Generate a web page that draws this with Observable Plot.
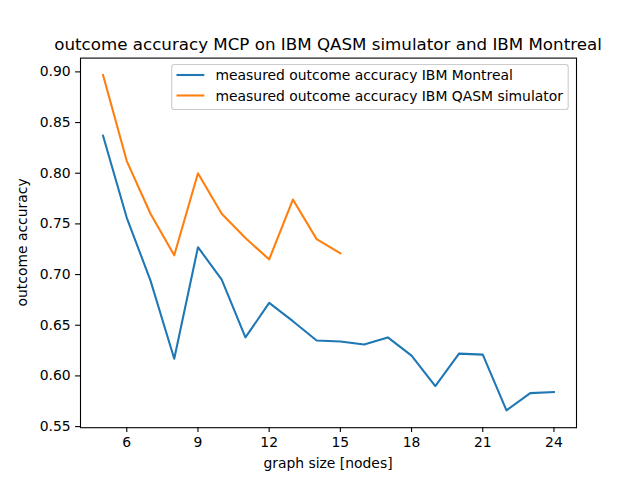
<!DOCTYPE html>
<html>
<head>
<meta charset="utf-8">
<script src="https://cdn.jsdelivr.net/npm/d3@7"></script>
<script src="https://cdn.jsdelivr.net/npm/@observablehq/plot@0.6"></script>
<style>
  html, body { margin: 0; padding: 0; background: #fff; }
  #wrap { position: relative; width: 640px; height: 480px; font-family: "DejaVu Sans", sans-serif; }
  #wrap svg.ov { position: absolute; left: 0; top: 0; pointer-events: none; }
</style>
</head>
<body>
<div id="wrap"></div>
<script>
const title = "outcome accuracy MCP on IBM QASM simulator and IBM Montreal";
const xLabel = "graph size [nodes]";
const yLabel = "outcome accuracy";
const seriesNames = ["measured outcome accuracy IBM Montreal", "measured outcome accuracy IBM QASM simulator"];
const seriesColors = ["#1f77b4", "#ff7f0e"];

const montrealNodes = [5, 6, 7, 8, 9, 10, 11, 12, 13, 14, 15, 16, 17, 18, 19, 20, 21, 22, 23, 24];
const montrealAcc = [0.837, 0.756, 0.694, 0.617, 0.727, 0.695, 0.638, 0.672, 0.654, 0.635, 0.634, 0.631, 0.638, 0.620, 0.590, 0.622, 0.621, 0.566, 0.583, 0.584];

const qasmNodes = [5, 6, 7, 8, 9, 10, 11, 12, 13, 14, 15];
const qasmAcc = [0.897, 0.812, 0.760, 0.719, 0.800, 0.760, 0.736, 0.715, 0.774, 0.735, 0.721];

const xTicks = [6, 9, 12, 15, 18, 21, 24];
const yTicks = [0.55, 0.60, 0.65, 0.70, 0.75, 0.80, 0.85, 0.90];

const data = [
  ...montrealNodes.map((n, i) => ({nodes: n, acc: montrealAcc[i], series: seriesNames[0]})),
  ...qasmNodes.map((n, i) => ({nodes: n, acc: qasmAcc[i], series: seriesNames[1]}))
];

const W = 640, H = 480;
const mL = 80, mR = 64, mT = 57.6, mB = 52.8;

const chart = Plot.plot({
  width: W,
  height: H,
  marginLeft: mL,
  marginRight: mR,
  marginTop: mT,
  marginBottom: mB,
  style: {fontFamily: "DejaVu Sans, sans-serif", fontSize: "13.9px", color: "black", background: "white"},
  x: {domain: [4.05, 24.95], ticks: xTicks, tickSize: 4.9, tickPadding: 4.9, label: null},
  y: {domain: [0.5489, 0.9136], ticks: yTicks, tickFormat: d3.format(".2f"), tickSize: 4.9, tickPadding: 4.9, label: null},
  color: {domain: seriesNames, range: seriesColors},
  marks: [
    Plot.line(data, {x: "nodes", y: "acc", z: "series", stroke: "series", strokeWidth: 2.08, strokeLinejoin: "round", strokeLinecap: "square"}),
    Plot.frame({stroke: "black", strokeWidth: 1.1}),
    Plot.axisX({ticks: xTicks, tickSize: 4.9, tickPadding: 4.9, fontSize: 13.9, stroke: "black", strokeWidth: 1.1, fill: "black"}),
    Plot.axisY({ticks: yTicks, tickFormat: d3.format(".2f"), tickSize: 4.9, tickPadding: 4.9, fontSize: 13.9, stroke: "black", strokeWidth: 1.1, fill: "black"})
  ]
});

const wrap = document.getElementById("wrap");
wrap.appendChild(chart);

// Overlay for title, axis labels and legend
const ns = "http://www.w3.org/2000/svg";
const ov = document.createElementNS(ns, "svg");
ov.setAttribute("class", "ov");
ov.setAttribute("width", W);
ov.setAttribute("height", H);
function txt(s, attrs) {
  const t = document.createElementNS(ns, "text");
  t.textContent = s;
  for (const k in attrs) t.setAttribute(k, attrs[k]);
  t.setAttribute("font-family", "DejaVu Sans, sans-serif");
  ov.appendChild(t);
  return t;
}
const cx = mL + (W - mL - mR) / 2;
txt(title, {x: cx, y: 49.5, "text-anchor": "middle", "font-size": 16.7, fill: "black"});
txt(xLabel, {x: cx, y: 468, "text-anchor": "middle", "font-size": 13.9, fill: "black"});
txt(yLabel, {x: 0, y: 0, "text-anchor": "middle", "font-size": 13.9, fill: "black", transform: `translate(27,${mT + (H - mT - mB) / 2}) rotate(-90)`});

// legend
const box = document.createElementNS(ns, "rect");
box.setAttribute("x", 171.7); box.setAttribute("y", 64.5);
box.setAttribute("width", 396.5); box.setAttribute("height", 45);
box.setAttribute("rx", 2.8);
box.setAttribute("fill", "white"); box.setAttribute("fill-opacity", 0.8);
box.setAttribute("stroke", "#cccccc"); box.setAttribute("stroke-width", 1.1);
ov.appendChild(box);
seriesNames.forEach((name, i) => {
  const yy = 75 + i * 20.5;
  const l = document.createElementNS(ns, "line");
  l.setAttribute("x1", 176.5); l.setAttribute("x2", 204.3);
  l.setAttribute("y1", yy); l.setAttribute("y2", yy);
  l.setAttribute("stroke", seriesColors[i]); l.setAttribute("stroke-width", 2.08);
  ov.appendChild(l);
  txt(name, {x: 215.5, y: yy + 5, "font-size": 13.9, fill: "black"});
});
wrap.appendChild(ov);
</script>
</body>
</html>
